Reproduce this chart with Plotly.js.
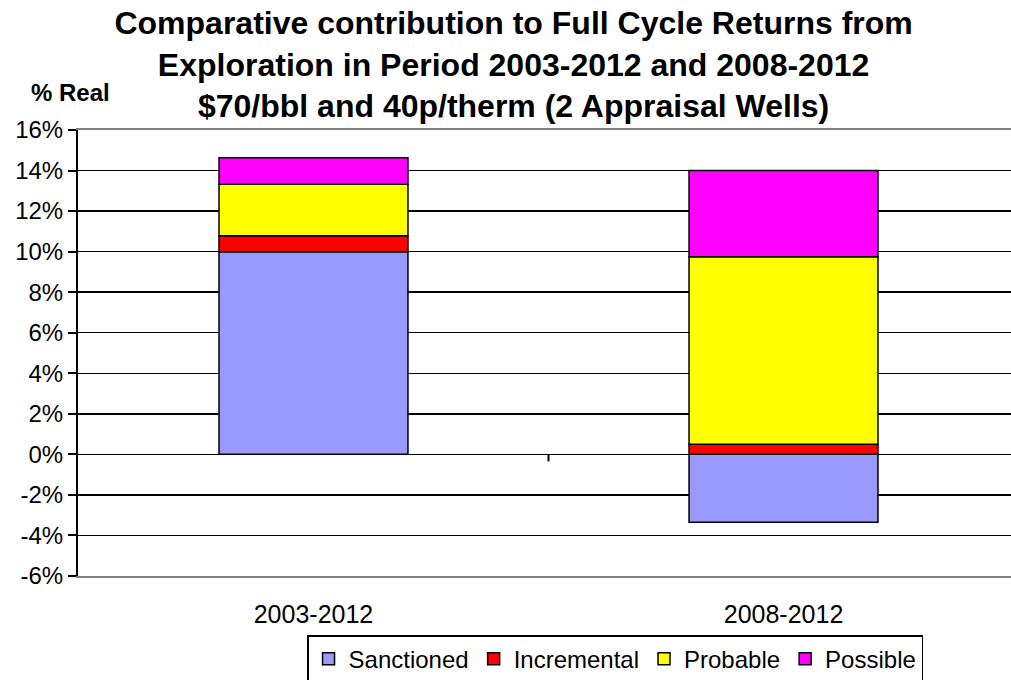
<!DOCTYPE html>
<html>
<head>
<meta charset="utf-8">
<script src="https://cdn.plot.ly/plotly-3.0.1.min.js"></script>
<style>html,body{margin:0;padding:0;background:#fff;}#chart{width:1011px;height:680px;}</style>
</head>
<body>
<div id="chart"></div>
<script>
// Data (percent, real)
const periods = ["2003-2012", "2008-2012"];
const sanctioned = [10.0, -3.35];
const incremental = [0.78, 0.5];
const probable = [2.55, 9.25];
const possible = [1.3, 4.25];
const seriesNames = ["Sanctioned", "Incremental", "Probable", "Possible"];
const seriesColors = ["#9999FF", "#FF0000", "#FFFF00", "#FF00FF"];
const yTicks = [-6, -4, -2, 0, 2, 4, 6, 8, 10, 12, 14, 16];

const FONT = "Liberation Sans, Arial, sans-serif";
const seriesValues = [sanctioned, incremental, probable, possible];
const traces = seriesValues.map((vals, i) => ({
  type: "bar",
  name: seriesNames[i],
  x: periods,
  y: vals,
  width: 0.402,
  marker: {color: seriesColors[i], line: {color: "#000000", width: 1.5}},
  hoverinfo: "name+y"
}));

const layout = {
  width: 1011, height: 680,
  paper_bgcolor: "#ffffff", plot_bgcolor: "#ffffff",
  margin: {l: 78, r: 0, t: 130, b: 104},
  barmode: "relative",
  title: {
    text: "Comparative contribution to Full Cycle Returns from<br>Exploration in Period 2003-2012 and 2008-2012<br>$70/bbl and 40p/therm (2 Appraisal Wells)",
    font: {family: FONT, size: 32, color: "#000000", weight: "bold"},
    x: 0.508, xanchor: "center", xref: "container",
    y: 0.950, yanchor: "top", yref: "container",
    automargin: false
  },
  xaxis: {
    type: "category",
    range: [-0.501, 1.484],
    showgrid: false, zeroline: false,
    showline: true, linecolor: "#808080", linewidth: 2, mirror: true,
    ticks: "", ticklabelstandoff: 15,
    tickfont: {family: FONT, size: 25, color: "#000000"}
  },
  yaxis: {
    range: [-6, 16],
    tickvals: yTicks,
    ticktext: yTicks.map(v => v + "%"),
    showgrid: true, gridcolor: "#000000", gridwidth: 1.5,
    zeroline: true, zerolinecolor: "#000000", zerolinewidth: 1.5,
    showline: true, linecolor: "#000000", linewidth: 2,
    ticks: "outside", ticklen: 8, tickwidth: 2, tickcolor: "#000000",
    tickfont: {family: FONT, size: 24, color: "#000000"}
  },
  showlegend: true,
  legend: {
    orientation: "h",
    x: 0.3037, xanchor: "left", xref: "container",
    y: 0.066, yanchor: "top", yref: "container",
    bordercolor: "#000000", borderwidth: 1.5,
    font: {family: FONT, size: 24, color: "#000000"},
    traceorder: "normal",
    itemwidth: 30
  },
  shapes: [{
    type: "line", xref: "x", yref: "y", x0: 0.5, x1: 0.5,
    ysizemode: "pixel", yanchor: 0, y0: 0, y1: -7,
    line: {color: "#000000", width: 2}
  }],
  annotations: [{
    text: "% Real", xref: "paper", yref: "paper", x: -0.052, y: 1.085,
    xanchor: "left", yanchor: "middle", showarrow: false,
    font: {family: FONT, size: 24, color: "#000000", weight: "bold"}
  }]
};

Plotly.newPlot("chart", traces, layout, {displayModeBar: false, staticPlot: true});
</script>
</body>
</html>
